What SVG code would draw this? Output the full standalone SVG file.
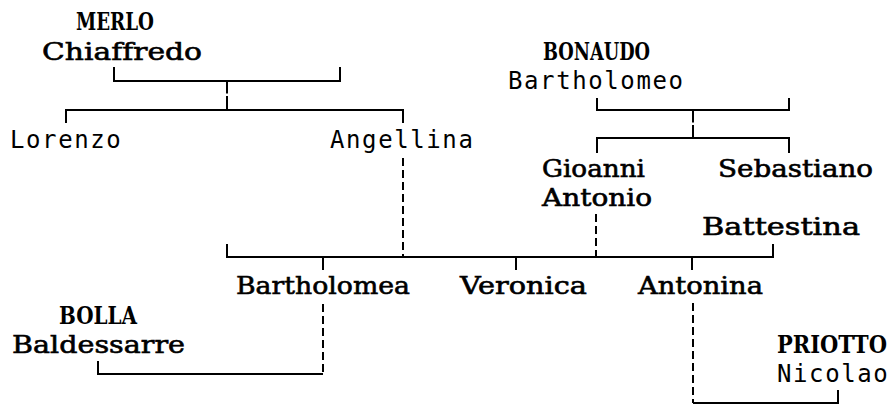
<svg xmlns="http://www.w3.org/2000/svg" width="895" height="408" viewBox="0 0 895 408">
<style>
.s{font-family:"DejaVu Sans Mono","Liberation Mono",monospace;font-size:24px;letter-spacing:1.6px;fill:#000}
.r{font-family:"DejaVu Serif","Liberation Serif",serif;font-size:24px;font-variant-ligatures:none;fill:#000;stroke:#000;stroke-width:0.6px}
.b{font-family:"DejaVu Serif Condensed","DejaVu Serif","Liberation Serif",serif;font-weight:bold;stroke:none}
.ln{stroke:#000;stroke-width:2;fill:none}
.ds{stroke:#000;stroke-width:2;fill:none;stroke-dasharray:8 4}
</style>
<rect width="895" height="408" fill="#fff"/>
<g id="connectors">
<path class="ln" d="M114,67V81H340V67"/>
<path class="ln" d="M227,81V93.5M227,96V110"/>
<path class="ln" d="M66,123V110H403V123"/>
<path class="ln" d="M597,98V110H789V98"/>
<path class="ln" d="M693,110V122.5M693,125V138"/>
<path class="ln" d="M597,153V138H789V153"/>
<path class="ln" d="M227,244V257H773V244"/>
<path class="ln" d="M323,257V270M516,257V270M692,257V270"/>
<path class="ds" d="M403,158V257"/>
<path class="ds" d="M596,214V257"/>
<path class="ln" d="M98,361V374H323"/>
<path class="ds" d="M323,304V374"/>
<path class="ln" d="M693,403H838V390"/>
<path class="ds" d="M693,303V403"/>
</g>
<g id="merlo"><text class="r b" x="76" y="30" textLength="78" lengthAdjust="spacingAndGlyphs">MERLO</text><text class="r" x="42" y="60" textLength="160" lengthAdjust="spacingAndGlyphs">Chiaffredo</text></g>
<g id="bonaudo"><text class="r b" x="543" y="60" textLength="107" lengthAdjust="spacingAndGlyphs">BONAUDO</text><text class="s" x="508" y="89">Bartholomeo</text></g>
<g id="lorenzo"><text class="s" x="10" y="148">Lorenzo</text></g>
<g id="angellina"><text class="s" x="330" y="148">Angellina</text></g>
<g id="gioanni"><text class="r" x="542" y="177" textLength="103" lengthAdjust="spacingAndGlyphs">Gioanni</text><text class="r" x="542" y="206" textLength="110" lengthAdjust="spacingAndGlyphs">Antonio</text></g>
<g id="sebastiano"><text class="r" x="718" y="177" textLength="155" lengthAdjust="spacingAndGlyphs">Sebastiano</text></g>
<g id="battestina"><text class="r" x="702" y="235" textLength="158" lengthAdjust="spacingAndGlyphs">Battestina</text></g>
<g id="bartholomea"><text class="r" x="236" y="294" textLength="174" lengthAdjust="spacingAndGlyphs">Bartholomea</text></g>
<g id="veronica"><text class="r" x="460" y="294" textLength="127" lengthAdjust="spacingAndGlyphs">Veronica</text></g>
<g id="antonina"><text class="r" x="638" y="294" textLength="125" lengthAdjust="spacingAndGlyphs">Antonina</text></g>
<g id="bolla"><text class="r b" x="59" y="324" textLength="78" lengthAdjust="spacingAndGlyphs">BOLLA</text><text class="r" x="12" y="353" textLength="173" lengthAdjust="spacingAndGlyphs">Baldessarre</text></g>
<g id="priotto"><text class="r b" x="777" y="353" textLength="110" lengthAdjust="spacingAndGlyphs">PRIOTTO</text><text class="s" x="777" y="382">Nicolao</text></g>
</svg>
